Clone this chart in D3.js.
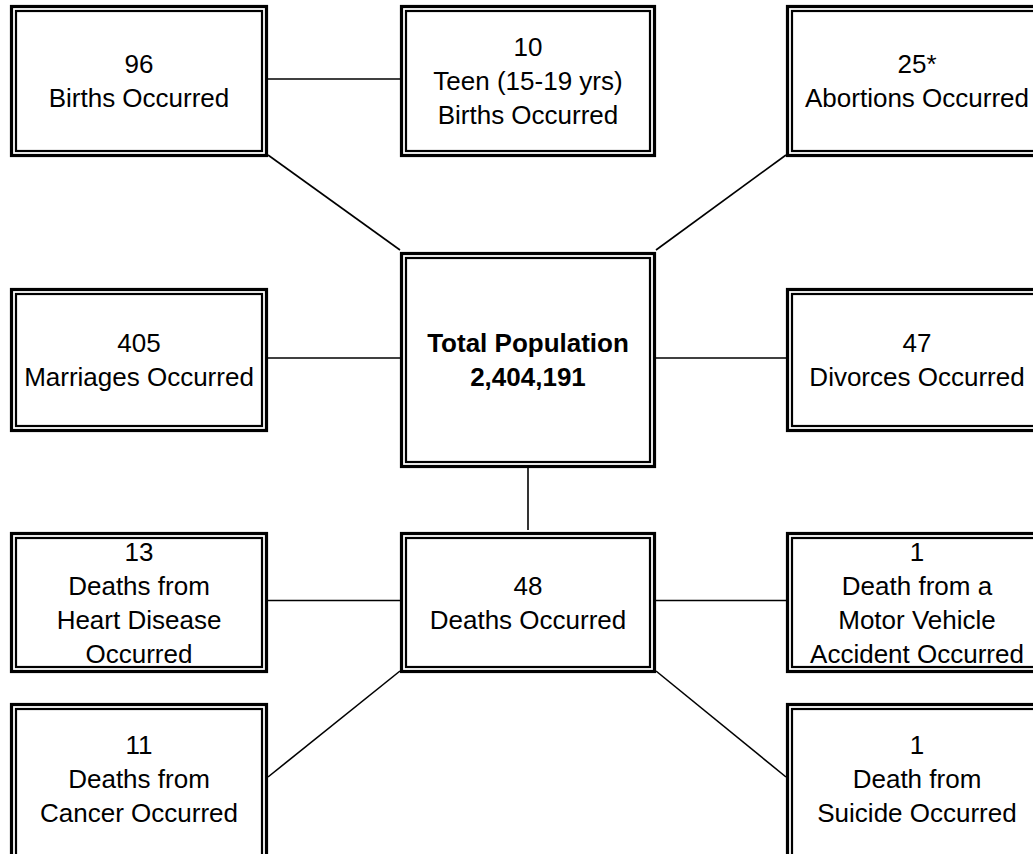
<!DOCTYPE html>
<html>
<head>
<meta charset="utf-8">
<script src="https://cdn.jsdelivr.net/npm/d3@7"></script>
<style>
    html, body { margin: 0; padding: 0; background: #fff; }
    #vis { width: 1033px; height: 854px; overflow: hidden; }
    text { font-family: "Liberation Sans", Arial, sans-serif; fill: #000; }
</style>
</head>
<body>
<div id="vis"></div>
<script>
// boxes
var nodeNames = ['births', 'teen', 'abortions', 'marriages', 'total', 'divorces',
    'heart', 'deaths', 'motor', 'cancer', 'suicide'];
var nodeValues = ['96', '10', '25*', '405', '2,404,191', '47', '13', '48', '1', '11', '1'];
var nodeLabels = [
    ['Births Occurred'],
    ['Teen (15-19 yrs)', 'Births Occurred'],
    ['Abortions Occurred'],
    ['Marriages Occurred'],
    ['Total Population'],
    ['Divorces Occurred'],
    ['Deaths from', 'Heart Disease', 'Occurred'],
    ['Deaths Occurred'],
    ['Death from a', 'Motor Vehicle', 'Accident Occurred'],
    ['Deaths from', 'Cancer Occurred'],
    ['Death from', 'Suicide Occurred']
];
var nodeCols = ['left', 'mid', 'right', 'left', 'mid', 'right', 'left', 'mid', 'right', 'left', 'right'];
var nodeRows = ['top', 'top', 'top', 'middle', 'middle', 'middle', 'lower', 'lower', 'lower', 'bottom', 'bottom'];
var hubName = 'total';

// connectors
var linkSource = ['births', 'births', 'abortions', 'marriages', 'total', 'total', 'heart', 'deaths', 'deaths', 'deaths'];
var linkTarget = ['teen', 'total', 'total', 'total', 'divorces', 'deaths', 'deaths', 'motor', 'cancer', 'suicide'];
var linkFrom = ['r', 'br', 'bl', 'r', 'r', 'b', 'r', 'r', 'bl', 'br'];
var linkTo = ['l', 'tl', 'tr', 'l', 'l', 't', 'l', 'l', 'r', 'l'];

var width = 1033,
    height = 854;

var svg = d3.select('#vis')
    .append('svg')
    .attr('width', width)
    .attr('height', height);

var x_scale = d3.scaleOrdinal()
    .domain(['left', 'mid', 'right'])
    .range([10, 400, 786]);
var w_scale = d3.scaleOrdinal()
    .domain(['left', 'mid', 'right'])
    .range([258, 256, 262]);
var y_scale = d3.scaleOrdinal()
    .domain(['top', 'middle', 'lower', 'bottom'])
    .range([5, 288, 532, 703]);
var h_scale = d3.scaleOrdinal()
    .domain(['top', 'middle', 'lower', 'bottom'])
    .range([152, 144, 141, 160]);
var hubGrow = 36;

var nodes = nodeNames.map(function(name, i) {
    var hub = name === hubName;
    var y = y_scale(nodeRows[i]) - (hub ? hubGrow : 0);
    var lines = hub ? nodeLabels[i].concat([nodeValues[i]]) : [nodeValues[i]].concat(nodeLabels[i]);
    return {
        name: name,
        hub: hub,
        row: nodeRows[i],
        x: x_scale(nodeCols[i]),
        y: y,
        w: w_scale(nodeCols[i]),
        h: h_scale(nodeRows[i]) + (hub ? 2 * hubGrow : 0),
        lines: lines
    };
});
var byName = {};
nodes.forEach(function(d) { byName[d.name] = d; });

function anchor(d, a) {
    var cx = d.x + d.w / 2,
        cy = d.y + d.h / 2;
    if (d.row === 'bottom') cy = d.y + 76;
    switch (a) {
        case 'l': return [d.x, cy];
        case 'r': return [d.x + d.w, cy];
        case 't': return [cx, d.y];
        case 'b': return [cx, d.y + d.h];
        case 'tl': return [d.x, d.y];
        case 'tr': return [d.x + d.w, d.y];
        case 'bl': return [d.x, d.y + d.h];
        case 'br': return [d.x + d.w, d.y + d.h];
    }
}

var links = linkSource.map(function(s, i) {
    return {
        p1: anchor(byName[s], linkFrom[i]),
        p2: anchor(byName[linkTarget[i]], linkTo[i])
    };
});

svg.selectAll('.link')
    .data(links)
    .enter()
    .append('line')
    .attr('class', 'link')
    .attr('x1', function(d) { return d.p1[0]; })
    .attr('y1', function(d) { return d.p1[1] - 2; })
    .attr('x2', function(d) { return d.p2[0]; })
    .attr('y2', function(d) { return d.p2[1] - 2; })
    .attr('stroke', '#000')
    .attr('stroke-width', 1.6);

var box = svg.selectAll('.box')
    .data(nodes)
    .enter()
    .append('g')
    .attr('class', 'box')
    .attr('transform', function(d) { return 'translate(' + d.x + ',' + d.y + ')'; });

// outer border
box.append('rect')
    .attr('x', 1.5)
    .attr('y', 1.5)
    .attr('width', function(d) { return d.w - 3; })
    .attr('height', function(d) { return d.h - 3; })
    .attr('fill', '#fff')
    .attr('stroke', '#000')
    .attr('stroke-width', 3.2);

// inner border
box.append('rect')
    .attr('x', 6)
    .attr('y', 6)
    .attr('width', function(d) { return d.w - 12; })
    .attr('height', function(d) { return d.h - 12; })
    .attr('fill', 'none')
    .attr('stroke', '#000')
    .attr('stroke-width', 2.2);

var lineGap = 34;

box.append('text')
    .attr('text-anchor', 'middle')
    .attr('font-size', '26px')
    .attr('font-weight', function(d) { return d.hub ? 'bold' : 'normal'; })
    .selectAll('tspan')
    .data(function(d) {
        var cy = d.row === 'bottom' ? 76 : d.h / 2;
        return d.lines.map(function(t, i) {
            return { t: t, i: i, n: d.lines.length, w: d.w, cy: cy };
        });
    })
    .enter()
    .append('tspan')
    .attr('x', function(d) { return d.w / 2; })
    .attr('y', function(d) { return d.cy + (d.i - (d.n - 1) / 2) * lineGap + 9; })
    .text(function(d) { return d.t; });
</script>
</body>
</html>
